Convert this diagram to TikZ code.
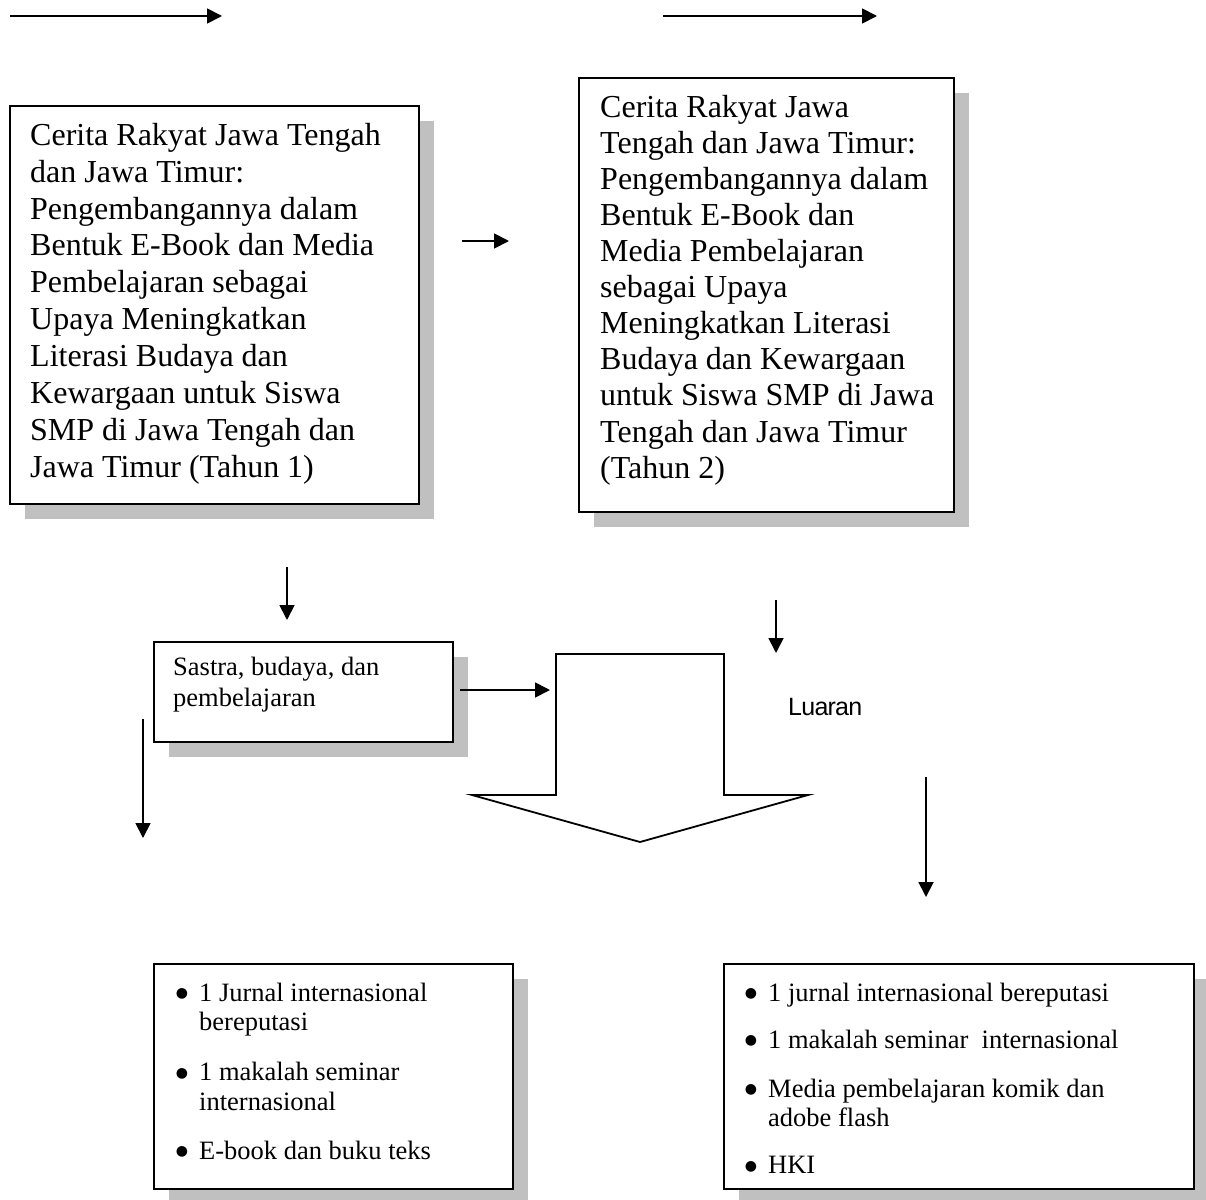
\documentclass[tikz,border=0pt]{standalone}
\usepackage{fontspec}
\setmainfont{Liberation Serif}
\newfontfamily\luaranfont{Liberation Sans}
\newfontfamily\bulfont{DejaVu Sans}
\usetikzlibrary{arrows.meta,shadows}
\definecolor{shadowgray}{HTML}{C0C0C0}
\newcommand{\itembul}{\llap{\raisebox{3.5pt}{\fontsize{14}{14}\bulfont ●}\hspace{11pt}}}
\begin{document}
\begin{tikzpicture}[x=1pt,y=-1pt,
  conn/.style={line width=1.8pt,-{Triangle[length=15pt,width=15pt]}},
  boxnode/.style={draw,line width=1.8pt,fill=white,inner sep=0pt,anchor=north west,
    drop shadow={shadow xshift=15.5pt,shadow yshift=-15.5pt,fill=shadowgray,opacity=1}},
  txt/.style={inner sep=0pt,anchor=north west,align=left},
  bigtxt/.style={txt,font=\fontsize{32}{36.9}\selectfont},
  bigtxtb/.style={txt,font=\fontsize{32}{36.1}\selectfont},
  smalltxt/.style={txt,font=\fontsize{26.5}{31}\selectfont},
  listtxt/.style={txt,font=\fontsize{26.5}{29.5}\selectfont},
  blockarrow/.style={line width=1.8pt,line join=miter}
]
\useasboundingbox (0,0) rectangle (1206,1199);
\fill[white] (0,0) rectangle (1206,1199);

% boxes
\node[boxnode,minimum width=409pt,minimum height=398pt] (b1) at (9,105) {};
\node[boxnode,minimum width=375pt,minimum height=434pt] (b2) at (578,77) {};
\node[boxnode,minimum width=299pt,minimum height=100pt] (b3) at (153,641) {};
\node[boxnode,minimum width=359pt,minimum height=225pt] (b4) at (153,963) {};
\node[boxnode,minimum width=470pt,minimum height=225pt] (b5) at (723,963) {};

% texts
\node[bigtxt] (t1) at (30,119.2) {\strut Cerita Rakyat Jawa Tengah\\
dan Jawa Timur:\\
Pengembangannya dalam\\
Bentuk E-Book dan Media\\
Pembelajaran sebagai\\
Upaya Meningkatkan\\
Literasi Budaya dan\\
Kewargaan untuk Siswa\\
SMP di Jawa Tengah dan\\
Jawa Timur (Tahun 1)};

\node[bigtxtb] (t2) at (600,91.7) {\strut Cerita Rakyat Jawa\\
Tengah dan Jawa Timur:\\
Pengembangannya dalam\\
Bentuk E-Book dan\\
Media Pembelajaran\\
sebagai Upaya\\
Meningkatkan Literasi\\
Budaya dan Kewargaan\\
untuk Siswa SMP di Jawa\\
Tengah dan Jawa Timur\\
(Tahun 2)};

\node[smalltxt] (t3) at (173,653.3) {\strut Sastra, budaya, dan\\pembelajaran};

\node[listtxt] (t4) at (199,980.35) {\strut\itembul 1 Jurnal internasional\\
bereputasi\\[20.5pt]
\itembul 1 makalah seminar\\
internasional\\[19.5pt]
\itembul E-book dan buku teks};

\node[listtxt] (t5) at (768,980.35) {\strut\itembul 1 jurnal internasional bereputasi\\[17.5pt]
\itembul 1 makalah seminar\ \ internasional\\[19.5pt]
\itembul Media pembelajaran komik dan\\
adobe flash\\[17.5pt]
\itembul HKI};

\node[inner sep=0pt,anchor=base west,font=\luaranfont\fontsize{25}{29}\selectfont\addfontfeature{LetterSpace=-3}] (lu) at (788,715) {Luaran};

% block arrow
\coordinate (ba1) at (556,654);
\coordinate (ba2) at (724,654);
\coordinate (ba3) at (724,795);
\coordinate (ba4) at (808,795);
\coordinate (ba5) at (640,842);
\coordinate (ba6) at (472,795);
\coordinate (ba7) at (556,795);
\draw[blockarrow] (ba1) -- (ba2) -- (ba3) -- (ba4) -- (ba5) -- (ba6) -- (ba7) -- cycle;

% connector end points
\coordinate (a1s) at (10,16);   \coordinate (a1e) at (222,16);
\coordinate (a2s) at (663,16);  \coordinate (a2e) at (877,16);
\coordinate (a3s) at (462,241); \coordinate (a3e) at (509,241);
\coordinate (a4s) at (287,567); \coordinate (a4e) at (287,620);
\coordinate (a5s) at (776,600); \coordinate (a5e) at (776,653);
\coordinate (a6s) at (460,690); \coordinate (a6e) at (550,690);
\coordinate (a7s) at (143,719); \coordinate (a7e) at (143,838);
\coordinate (a8s) at (926,777); \coordinate (a8e) at (926,897);

\draw[conn] (a1s) -- (a1e);
\draw[conn] (a2s) -- (a2e);
\draw[conn] (a3s) -- (a3e);
\draw[conn] (a4s) -- (a4e);
\draw[conn] (a5s) -- (a5e);
\draw[conn] (a6s) -- (a6e);
\draw[conn] (a7s) -- (a7e);
\draw[conn] (a8s) -- (a8e);
\end{tikzpicture}
\end{document}
